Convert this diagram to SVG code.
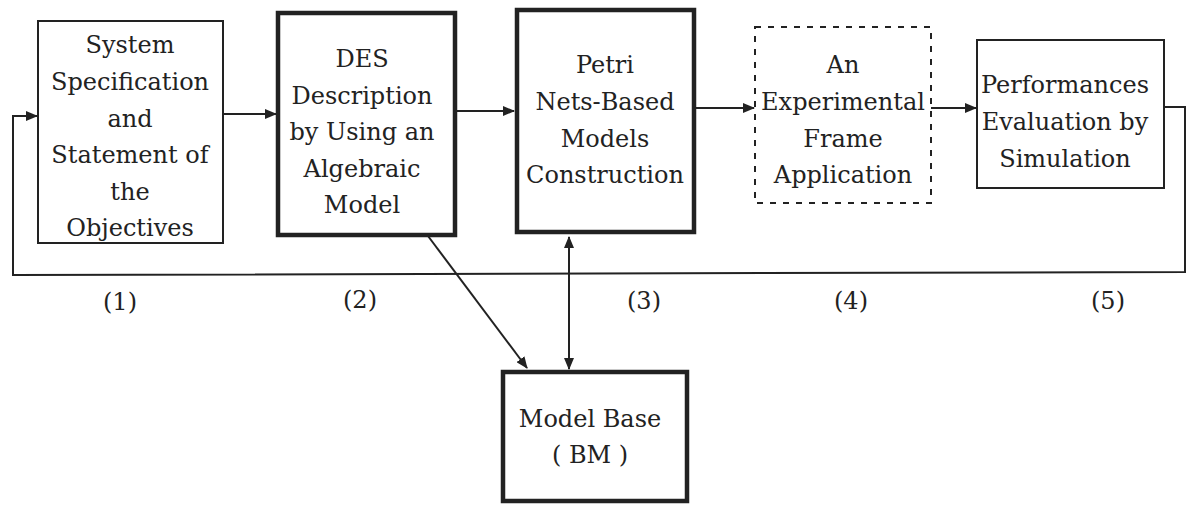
<svg xmlns="http://www.w3.org/2000/svg" width="1191" height="505" viewBox="0 0 1191 505">
<defs>
<style>
text{font-family:'DejaVu Serif',serif;font-size:24px;fill:#222;text-anchor:middle}
.thin{fill:#fff;stroke:#222;stroke-width:2}
.thick{fill:#fff;stroke:#222;stroke-width:4.5}
.dash{fill:#fff;stroke:#222;stroke-width:2;stroke-dasharray:6 7}
.c{fill:none;stroke:#222;stroke-width:2}
</style>
<marker id="ah" viewBox="0 0 12 10" refX="11" refY="5" markerWidth="12" markerHeight="10" markerUnits="userSpaceOnUse" orient="auto-start-reverse">
<path d="M0,0 L12,5 L0,10 Z" fill="#222"/>
</marker>
</defs>
<rect width="1191" height="505" fill="#fff"/>
<g id="connectors">
<polyline class="c" points="1164,107 1185,107 1185,272 13,275 13,116 37,116" marker-end="url(#ah)"/>
<line class="c" x1="223" y1="114" x2="276" y2="114" marker-end="url(#ah)"/>
<line class="c" x1="455" y1="111" x2="514" y2="111" marker-end="url(#ah)"/>
<line class="c" x1="694" y1="108" x2="754" y2="108" marker-end="url(#ah)"/>
<line class="c" x1="931" y1="108" x2="976" y2="108" marker-end="url(#ah)"/>
<line class="c" x1="428" y1="236" x2="527" y2="368" marker-end="url(#ah)"/>
<line class="c" x1="569" y1="237" x2="569" y2="369" marker-start="url(#ah)" marker-end="url(#ah)"/>
</g>
<g id="n1">
<rect class="thin" x="38" y="21" width="185" height="222"/>
<text x="130" y="53">System</text>
<text x="130" y="90">Specification</text>
<text x="130" y="127">and</text>
<text x="130" y="163">Statement of</text>
<text x="130" y="200">the</text>
<text x="130" y="236">Objectives</text>
</g>
<g id="n2">
<rect class="thick" x="278" y="13" width="177" height="222"/>
<text x="362" y="67">DES</text>
<text x="362" y="104">Description</text>
<text x="362" y="140">by Using an</text>
<text x="362" y="177">Algebraic</text>
<text x="362" y="213">Model</text>
</g>
<g id="n3">
<rect class="thick" x="517" y="10" width="177" height="222"/>
<text x="605" y="73">Petri</text>
<text x="605" y="110">Nets-Based</text>
<text x="605" y="147">Models</text>
<text x="605" y="183">Construction</text>
</g>
<g id="n4">
<rect class="dash" x="755" y="27" width="176" height="176"/>
<text x="843" y="73">An</text>
<text x="843" y="110">Experimental</text>
<text x="843" y="147">Frame</text>
<text x="843" y="183">Application</text>
</g>
<g id="n5">
<rect class="thin" x="977" y="40" width="187" height="148"/>
<text x="1065" y="93">Performances</text>
<text x="1065" y="130">Evaluation by</text>
<text x="1065" y="167">Simulation</text>
</g>
<g id="bm">
<rect class="thick" x="503" y="372" width="184" height="129"/>
<text x="590" y="427">Model Base</text>
<text x="590" y="463">( BM )</text>
</g>
<g id="labels">
<text x="120" y="310">(1)</text>
<text x="360" y="308">(2)</text>
<text x="644" y="309">(3)</text>
<text x="851" y="309">(4)</text>
<text x="1108" y="309">(5)</text>
</g>
</svg>
